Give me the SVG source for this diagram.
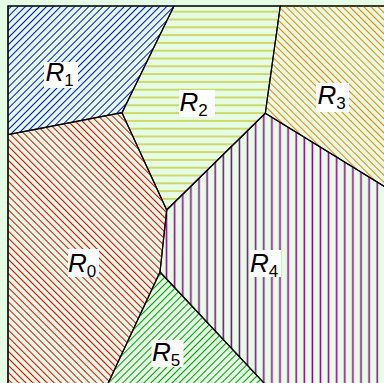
<svg xmlns="http://www.w3.org/2000/svg" width="384" height="383" viewBox="0 0 384 383">
<style>
.reg{stroke:#000;stroke-width:1.2;stroke-linejoin:round}
.lbl{fill:#fff}
.t{font-family:"Liberation Sans",Arial,sans-serif;font-size:26px;font-style:italic;fill:#000}
.s{font-size:17px;font-style:normal}
</style>
<defs>
<pattern id="pBlue" patternUnits="userSpaceOnUse" width="5" height="10" patternTransform="rotate(45)"><line x1="2.5" y1="0" x2="2.5" y2="10" stroke="#0010ff" stroke-width="1"/></pattern>
<pattern id="pRed" patternUnits="userSpaceOnUse" width="5" height="10" patternTransform="rotate(-45)"><line x1="2.5" y1="0" x2="2.5" y2="10" stroke="#ff0000" stroke-width="1"/></pattern>
<pattern id="pOrange" patternUnits="userSpaceOnUse" width="5" height="10" patternTransform="rotate(-45)"><line x1="2.5" y1="0" x2="2.5" y2="10" stroke="#ff8000" stroke-width="1"/></pattern>
<pattern id="pGreen" patternUnits="userSpaceOnUse" width="5" height="10" patternTransform="rotate(45)"><line x1="2.5" y1="0" x2="2.5" y2="10" stroke="#00a000" stroke-width="1"/></pattern>
<pattern id="pYellow" patternUnits="userSpaceOnUse" width="10" height="7.8"><line x1="0" y1="3.9" x2="10" y2="3.9" stroke="#c8cc40" stroke-width="1.5"/></pattern>
<pattern id="pPurple" patternUnits="userSpaceOnUse" width="8.1" height="10" x="0.6"><line x1="4" y1="0" x2="4" y2="10" stroke="#880088" stroke-width="1.5"/></pattern>
</defs>
<rect x="0" y="0" width="384" height="383" fill="#e5fce5"/>
<rect x="8" y="6" width="400" height="400" fill="none" stroke="#3c4a3c" stroke-width="1.5"/>
<g id="R1">
<polygon class="reg" fill="url(#pBlue)" points="8,6 174,6 122,112.7 8,134.7"/>
<rect class="lbl" x="44" y="62" width="34" height="26"/>
<text class="t" x="45.5" y="81">R<tspan class="s" dy="4.7">1</tspan></text>
</g>
<g id="R2">
<polygon class="reg" fill="url(#pYellow)" points="174,6 280.3,6 265.3,113.3 166.7,210 122,112.7"/>
<rect class="lbl" x="179" y="90" width="36" height="27"/>
<text class="t" x="179.5" y="111">R<tspan class="s" dy="4.7">2</tspan></text>
</g>
<g id="R3">
<polygon class="reg" fill="url(#pOrange)" points="280.3,6 390,6 390,190 265.3,113.3"/>
<rect class="lbl" x="316" y="83" width="33" height="29"/>
<text class="t" x="317.5" y="104">R<tspan class="s" dy="4.7">3</tspan></text>
</g>
<g id="R4">
<polygon class="reg" fill="url(#pPurple)" points="265.3,113.3 390,190 390,390 270.5,390 160,272 166.7,210"/>
<rect class="lbl" x="250" y="250" width="31" height="27"/>
<text class="t" x="250" y="272">R<tspan class="s" dy="4.7">4</tspan></text>
</g>
<g id="R0">
<polygon class="reg" fill="url(#pRed)" points="8,134.7 122,112.7 166.7,210 160,272 105,390 8,390"/>
<rect class="lbl" x="68" y="249" width="31" height="28"/>
<text class="t" x="68" y="272">R<tspan class="s" dy="4.7">0</tspan></text>
</g>
<g id="R5">
<polygon class="reg" fill="url(#pGreen)" points="160,272 270.5,390 105,390"/>
<rect class="lbl" x="151.5" y="340" width="32" height="27"/>
<text class="t" x="152" y="361">R<tspan class="s" dy="4.7">5</tspan></text>
</g>
<g id="connectors"/>
</svg>
